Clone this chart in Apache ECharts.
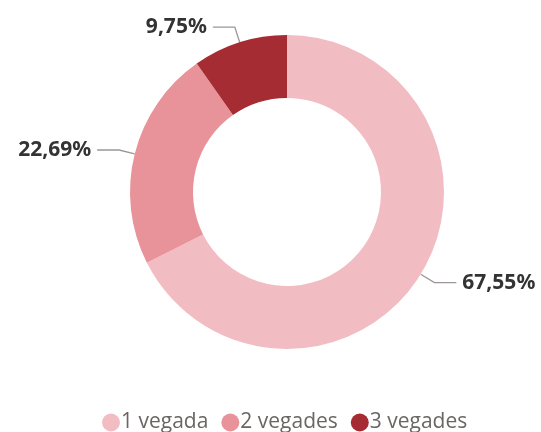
<!DOCTYPE html>
<html><head><meta charset="utf-8">
<script src="https://cdn.jsdelivr.net/npm/echarts@6/dist/echarts.min.js"></script>
<style>html,body{margin:0;padding:0;background:#fff}#c{width:541px;height:432px}</style>
</head><body><div id="c"></div>
<script>
const categories = ['1 vegada', '2 vegades', '3 vegades'];
const values = [67.55, 22.69, 9.75];
const colors = ['#F2BCC3', '#E8939A', '#A52C33'];

const chart = echarts.init(document.getElementById('c'), null, {renderer: 'canvas'});
chart.setOption({
  animation: false,
  color: colors,
  legend: {
    bottom: -6,
    left: 97,
    icon: 'circle',
    itemWidth: 18,
    itemHeight: 18,
    itemGap: 13,
    textStyle: {fontFamily: 'Open Sans', fontSize: 21, color: '#6b6663', padding: [0, 0, 0, -4]},
    data: categories
  },
  series: [{
    type: 'pie',
    center: [287, 192],
    radius: [94, 157],
    startAngle: 90,
    clockwise: true,
    data: categories.map((n, i) => ({name: n, value: values[i]})),
    label: {
      show: true,
      formatter: p => p.value.toFixed(2).replace('.', ',') + '%',
      fontFamily: 'Noto Sans',
      fontWeight: 'bold',
      fontSize: 21,
      color: '#333333',
      distanceToLabelLine: 6,
      overflow: 'none'
    },
    labelLine: {
      show: true,
      length: 16,
      length2: 22,
      lineStyle: {color: '#9c9794', width: 1.3}
    },
    emphasis: {disabled: true}
  }]
});
</script></body></html>
